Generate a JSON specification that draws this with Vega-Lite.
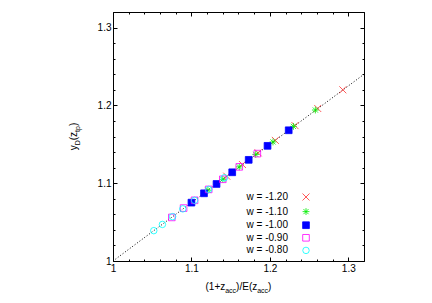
{
  "$schema": "https://vega.github.io/schema/vega-lite/v6.json",
  "width": 251,
  "height": 249,
  "autosize": {"type": "none"},
  "padding": {"left": 113, "top": 12, "right": 68, "bottom": 42},
  "background": "white",
  "config": {
    "view": {"stroke": "#000", "strokeWidth": 1},
    "font": "Liberation Sans",
    "axis": {"grid": false, "domain": false, "labelFont": "Liberation Sans", "labelFontSize": 10, "labelColor": "#000", "tickColor": "#000", "tickWidth": 1, "labelOverlap": false, "labelFlush": false, "labelPadding": 6}
  },
  "datasets": {
    "pts": [
      {"w": "w = -1.20", "x": 1.145, "y": 1.109},
      {"w": "w = -1.20", "x": 1.165, "y": 1.124},
      {"w": "w = -1.20", "x": 1.185, "y": 1.139},
      {"w": "w = -1.20", "x": 1.207, "y": 1.155},
      {"w": "w = -1.20", "x": 1.232, "y": 1.174},
      {"w": "w = -1.20", "x": 1.261, "y": 1.196},
      {"w": "w = -1.20", "x": 1.293, "y": 1.220},
      {"w": "w = -1.10", "x": 1.121, "y": 1.091},
      {"w": "w = -1.10", "x": 1.140, "y": 1.105},
      {"w": "w = -1.10", "x": 1.161, "y": 1.121},
      {"w": "w = -1.10", "x": 1.182, "y": 1.137},
      {"w": "w = -1.10", "x": 1.204, "y": 1.153},
      {"w": "w = -1.10", "x": 1.230, "y": 1.173},
      {"w": "w = -1.10", "x": 1.258, "y": 1.194},
      {"w": "w = -1.00", "x": 1.100, "y": 1.075},
      {"w": "w = -1.00", "x": 1.116, "y": 1.087},
      {"w": "w = -1.00", "x": 1.132, "y": 1.099},
      {"w": "w = -1.00", "x": 1.152, "y": 1.114},
      {"w": "w = -1.00", "x": 1.173, "y": 1.130},
      {"w": "w = -1.00", "x": 1.197, "y": 1.148},
      {"w": "w = -1.00", "x": 1.224, "y": 1.168},
      {"w": "w = -0.90", "x": 1.075, "y": 1.056},
      {"w": "w = -0.90", "x": 1.090, "y": 1.068},
      {"w": "w = -0.90", "x": 1.104, "y": 1.078},
      {"w": "w = -0.90", "x": 1.122, "y": 1.092},
      {"w": "w = -0.90", "x": 1.140, "y": 1.105},
      {"w": "w = -0.90", "x": 1.161, "y": 1.121},
      {"w": "w = -0.90", "x": 1.184, "y": 1.138},
      {"w": "w = -0.80", "x": 1.052, "y": 1.039},
      {"w": "w = -0.80", "x": 1.063, "y": 1.047},
      {"w": "w = -0.80", "x": 1.076, "y": 1.057},
      {"w": "w = -0.80", "x": 1.089, "y": 1.067},
      {"w": "w = -0.80", "x": 1.104, "y": 1.078},
      {"w": "w = -0.80", "x": 1.122, "y": 1.092},
      {"w": "w = -0.80", "x": 1.142, "y": 1.107}
    ]
  },
  "layer": [
    {
      "data": {"values": [{}]},
      "mark": {"type": "rule", "strokeDash": [1, 2], "color": "#000", "strokeWidth": 1},
      "encoding": {
        "x": {"datum": 1, "type": "quantitative", "scale": {"domain": [1, 1.32], "nice": false, "zero": false},
          "axis": {"orient": "top", "labels": false, "title": null, "values": [1,1.02,1.04,1.06,1.08,1.1,1.12,1.14,1.16,1.18,1.2,1.22,1.24,1.26,1.28,1.3,1.32],
            "tickSize": {"condition": {"test": "abs(datum.value*10 - round(datum.value*10)) < 0.01", "value": -4}, "value": -2}}},
        "y": {"datum": 1, "type": "quantitative", "scale": {"domain": [1, 1.32], "nice": false, "zero": false},
          "axis": {"orient": "right", "labels": false, "title": null, "values": [1,1.02,1.04,1.06,1.08,1.1,1.12,1.14,1.16,1.18,1.2,1.22,1.24,1.26,1.28,1.3,1.32],
            "tickSize": {"condition": {"test": "abs(datum.value*10 - round(datum.value*10)) < 0.01", "value": -4}, "value": -2}}},
        "x2": {"datum": 1.32},
        "y2": {"datum": 1.24}
      }
    },
    {
      "data": {"name": "pts"},
      "mark": {"type": "point", "filled": false, "strokeWidth": 0.8, "opacity": 1},
      "encoding": {
        "x": {"field": "x", "type": "quantitative",
          "axis": {"orient": "bottom", "title": null, "values": [1,1.02,1.04,1.06,1.08,1.1,1.12,1.14,1.16,1.18,1.2,1.22,1.24,1.26,1.28,1.3,1.32],
            "labelExpr": "abs(datum.value*10 - round(datum.value*10)) < 0.01 ? format(round(datum.value*10)/10, '') : ''",
            "tickSize": {"condition": {"test": "abs(datum.value*10 - round(datum.value*10)) < 0.01", "value": -4}, "value": -2}}},
        "y": {"field": "y", "type": "quantitative",
          "axis": {"orient": "left", "title": null, "values": [1,1.02,1.04,1.06,1.08,1.1,1.12,1.14,1.16,1.18,1.2,1.22,1.24,1.26,1.28,1.3,1.32],
            "labelExpr": "abs(datum.value*10 - round(datum.value*10)) < 0.01 ? format(round(datum.value*10)/10, '') : ''",
            "tickSize": {"condition": {"test": "abs(datum.value*10 - round(datum.value*10)) < 0.01", "value": -4}, "value": -2}}},
        "stroke": {"field": "w", "type": "nominal",
          "scale": {"domain": ["w = -1.20", "w = -1.10", "w = -1.00", "w = -0.90", "w = -0.80"], "range": ["#ff3030", "#00ee00", "#0000ff", "#ff00ff", "#00ffff"]},
          "legend": {"title": null, "orient": "none", "legendX": 188, "legendY": 180, "labelAlign": "right", "labelOffset": -23, "labelFontSize": 10, "labelFont": "Liberation Sans", "labelColor": "#000", "rowPadding": 2.6, "padding": 0, "symbolStrokeWidth": 0.8}},
        "fill": {"field": "w", "type": "nominal",
          "scale": {"domain": ["w = -1.20", "w = -1.10", "w = -1.00", "w = -0.90", "w = -0.80"], "range": ["transparent", "transparent", "#0000ff", "transparent", "transparent"]}},
        "shape": {"field": "w", "type": "nominal",
          "scale": {"domain": ["w = -1.20", "w = -1.10", "w = -1.00", "w = -0.90", "w = -0.80"], "range": ["M-1,-1L1,1M-1,1L1,-1", "M-1,0L1,0M0,-1L0,1M-0.75,-0.75L0.75,0.75M-0.75,0.75L0.75,-0.75", "square", "square", "circle"]}},
        "size": {"field": "w", "type": "nominal",
          "scale": {"domain": ["w = -1.20", "w = -1.10", "w = -1.00", "w = -0.90", "w = -0.80"], "range": [49, 42, 40, 60, 52]}}
      }
    },
    {"data": {"values": [{}]}, "mark": {"type": "text", "text": "(1+z", "align": "left", "baseline": "alphabetic", "dx": -33, "fontSize": 10, "font": "Liberation Sans", "color": "#000"},
     "encoding": {"x": {"datum": 1.16, "type": "quantitative", "axis": null}, "y": {"datum": 0.9623, "type": "quantitative", "axis": null}}},
    {"data": {"values": [{}]}, "mark": {"type": "text", "text": "acc", "align": "left", "baseline": "alphabetic", "dx": -13.3, "dy": 3, "fontSize": 7, "font": "Liberation Sans", "color": "#000"},
     "encoding": {"x": {"datum": 1.16, "type": "quantitative", "axis": null}, "y": {"datum": 0.9623, "type": "quantitative", "axis": null}}},
    {"data": {"values": [{}]}, "mark": {"type": "text", "text": ")/E(z", "align": "left", "baseline": "alphabetic", "dx": -2.4, "fontSize": 10, "font": "Liberation Sans", "color": "#000"},
     "encoding": {"x": {"datum": 1.16, "type": "quantitative", "axis": null}, "y": {"datum": 0.9623, "type": "quantitative", "axis": null}}},
    {"data": {"values": [{}]}, "mark": {"type": "text", "text": "acc", "align": "left", "baseline": "alphabetic", "dx": 18.7, "dy": 3, "fontSize": 7, "font": "Liberation Sans", "color": "#000"},
     "encoding": {"x": {"datum": 1.16, "type": "quantitative", "axis": null}, "y": {"datum": 0.9623, "type": "quantitative", "axis": null}}},
    {"data": {"values": [{}]}, "mark": {"type": "text", "text": ")", "align": "left", "baseline": "alphabetic", "dx": 29.6, "fontSize": 10, "font": "Liberation Sans", "color": "#000"},
     "encoding": {"x": {"datum": 1.16, "type": "quantitative", "axis": null}, "y": {"datum": 0.9623, "type": "quantitative", "axis": null}}},
    {"data": {"values": [{}]}, "mark": {"type": "text", "text": "y", "angle": 270, "align": "left", "baseline": "alphabetic", "dx": -13.8, "fontSize": 10, "font": "Liberation Sans", "color": "#000"},
     "encoding": {"x": {"datum": 0.954, "type": "quantitative", "axis": null}, "y": {"datum": 1.16, "type": "quantitative", "axis": null}}},
    {"data": {"values": [{}]}, "mark": {"type": "text", "text": "D", "angle": 270, "align": "left", "baseline": "alphabetic", "dx": -8.8, "dy": 3, "fontSize": 7, "font": "Liberation Sans", "color": "#000"},
     "encoding": {"x": {"datum": 0.954, "type": "quantitative", "axis": null}, "y": {"datum": 1.16, "type": "quantitative", "axis": null}}},
    {"data": {"values": [{}]}, "mark": {"type": "text", "text": "(z", "angle": 270, "align": "left", "baseline": "alphabetic", "dx": -3.75, "fontSize": 10, "font": "Liberation Sans", "color": "#000"},
     "encoding": {"x": {"datum": 0.954, "type": "quantitative", "axis": null}, "y": {"datum": 1.16, "type": "quantitative", "axis": null}}},
    {"data": {"values": [{}]}, "mark": {"type": "text", "text": "tp", "angle": 270, "align": "left", "baseline": "alphabetic", "dx": 4.6, "dy": 3, "fontSize": 7, "font": "Liberation Sans", "color": "#000"},
     "encoding": {"x": {"datum": 0.954, "type": "quantitative", "axis": null}, "y": {"datum": 1.16, "type": "quantitative", "axis": null}}},
    {"data": {"values": [{}]}, "mark": {"type": "text", "text": ")", "angle": 270, "align": "left", "baseline": "alphabetic", "dx": 10.4, "fontSize": 10, "font": "Liberation Sans", "color": "#000"},
     "encoding": {"x": {"datum": 0.954, "type": "quantitative", "axis": null}, "y": {"datum": 1.16, "type": "quantitative", "axis": null}}}
  ],
  "resolve": {"axis": {"x": "independent", "y": "independent"}}
}
